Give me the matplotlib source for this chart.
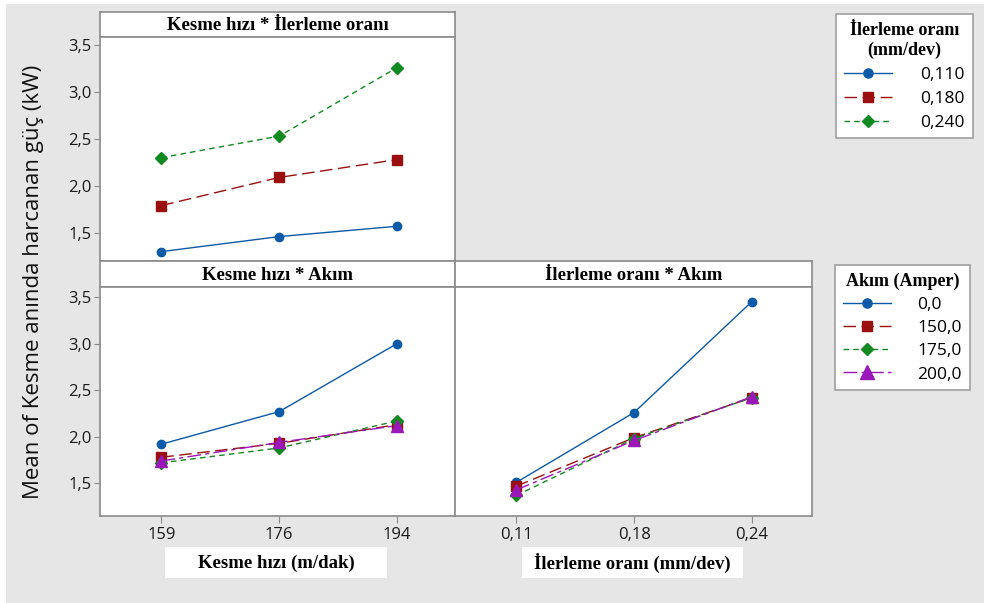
import matplotlib
matplotlib.use("Agg")
import matplotlib.pyplot as plt
from matplotlib.lines import Line2D
from matplotlib.patches import Rectangle

# --- data ---
kesme_hizi = ["159", "176", "194"]
ilerleme = ["0,11", "0,18", "0,24"]

ilerleme_levels = ["0,110", "0,180", "0,240"]
akim_levels = ["0,0", "150,0", "175,0", "200,0"]

# Kesme hızı * İlerleme oranı (rows: feed levels)
hiz_x_ilerleme = [
    [1.30, 1.46, 1.57],
    [1.79, 2.09, 2.28],
    [2.30, 2.53, 3.26],
]

# Kesme hızı * Akım (rows: current levels)
hiz_x_akim = [
    [1.92, 2.27, 3.00],
    [1.78, 1.93, 2.13],
    [1.72, 1.88, 2.17],
    [1.74, 1.94, 2.12],
]

# İlerleme oranı * Akım (rows: current levels)
ilerleme_x_akim = [
    [1.51, 2.26, 3.45],
    [1.47, 1.99, 2.42],
    [1.37, 1.98, 2.42],
    [1.43, 1.96, 2.43],
]

yticks = [1.5, 2.0, 2.5, 3.0, 3.5]
ytick_labels = ["1,5", "2,0", "2,5", "3,0", "3,5"]

# --- styles ---
BLUE, RED, GREEN, PURPLE = "#0b5aa8", "#9a1010", "#108a20", "#9b18b8"
styles = [
    dict(color=BLUE, marker="o", ms=6, ls="-"),
    dict(color=RED, marker="s", ms=7, ls=(0, (9, 4))),
    dict(color=GREEN, marker="D", ms=6, ls=(0, (4, 3))),
    dict(color=PURPLE, marker="^", ms=9, ls=(0, (10, 3, 3, 3))),
]

W, H = 984, 603
BG = "#e6e6e6"
EDGE = "#8a8a8a"
SANS = "Open Sans"
SERIF = "Liberation Serif"

fig = plt.figure(figsize=(W / 100, H / 100), dpi=100, facecolor="white")
fig.patches.append(Rectangle((6 / W, 0), 1, 1 - 4 / H, transform=fig.transFigure,
                             facecolor=BG, edgecolor="none", zorder=-10))


def box(x0, y0, x1, y1):
    return fig.add_axes([x0 / W, 1 - y1 / H, (x1 - x0) / W, (y1 - y0) / H])


def strip(x0, y0, x1, y1, title):
    ax = box(x0, y0, x1, y1)
    ax.set_facecolor("white")
    ax.set_xticks([])
    ax.set_yticks([])
    for s in ax.spines.values():
        s.set_color(EDGE)
        s.set_linewidth(1.2)
    ax.text(0.5, 0.45, title, ha="center", va="center", fontsize=13.5,
            fontweight="bold", family=SERIF, transform=ax.transAxes)
    return ax


def panel(x0, y0, x1, y1, rows, ylim, xlim, show_y, xlabels):
    ax = box(x0, y0, x1, y1)
    ax.set_facecolor("white")
    for vals, st in zip(rows, styles):
        ax.plot(range(len(vals)), vals, color=st["color"], marker=st["marker"],
                markersize=st["ms"], linestyle=st["ls"], linewidth=1.0)
    ax.set_ylim(*ylim)
    ax.set_xlim(*xlim)
    for s in ax.spines.values():
        s.set_color(EDGE)
        s.set_linewidth(1.2)
    ax.set_yticks(yticks)
    if show_y:
        ax.set_yticklabels(ytick_labels, fontsize=12, family=SANS, color="#1a1a1a")
        ax.tick_params(axis="y", length=4, color=EDGE, pad=2)
    else:
        ax.tick_params(axis="y", length=0, labelleft=False)
    ax.set_xticks(range(3))
    if xlabels is not None:
        ax.set_xticklabels(xlabels, fontsize=12, family=SANS, color="#1a1a1a")
        ax.tick_params(axis="x", length=5, color=EDGE, pad=3)
    else:
        ax.tick_params(axis="x", length=0, labelbottom=False)
    return ax


# top-left: Kesme hızı * İlerleme oranı
strip(100, 12, 455, 37, "Kesme hızı * İlerleme oranı")
panel(100, 37, 455, 261, hiz_x_ilerleme, (1.2, 3.585), (-0.52, 2.49), True, None)

# bottom-left: Kesme hızı * Akım
strip(100, 261, 455, 287, "Kesme hızı * Akım")
panel(100, 287, 455, 516, hiz_x_akim, (1.15, 3.606), (-0.52, 2.49), True, kesme_hizi)

# bottom-right: İlerleme oranı * Akım
strip(455, 261, 812, 287, "İlerleme oranı * Akım")
panel(455, 287, 812, 516, ilerleme_x_akim, (1.15, 3.606), (-0.52, 2.51), False, ilerleme)

# y label
fig.text(34 / W, 1 - 282 / H, "Mean of Kesme anında harcanan güç (kW)", rotation=90,
         ha="center", va="center", fontsize=16, family=SANS, color="#111111")

# x labels on white boxes
for (x0, x1), label in [((165, 387), "Kesme hızı (m/dak)"),
                        ((522, 743), "İlerleme oranı (mm/dev)")]:
    fig.patches.append(Rectangle((x0 / W, 1 - 578 / H), (x1 - x0) / W, 31 / H,
                                 transform=fig.transFigure, facecolor="white",
                                 edgecolor="none", zorder=-5))
    fig.text((x0 + x1) / 2 / W, 1 - 563 / H, label, ha="center", va="center",
             fontsize=13.5, fontweight="bold", family=SERIF)


# legends
def make_handles(n):
    return [Line2D([], [], color=st["color"], marker=st["marker"], markersize=st["ms"] * 1.1,
                   linestyle=st["ls"], linewidth=1.0) for st in styles[:n]]


common = dict(loc="upper left", frameon=True, fancybox=False, edgecolor="#a0a0a0",
              framealpha=1, borderaxespad=0, handlelength=2.8, borderpad=0.45,
              prop=dict(family=SANS, size=12.5),
              title_fontproperties=dict(family=SERIF, weight="bold", size=13))
leg1 = fig.legend(make_handles(3), ilerleme_levels, title="İlerleme oranı\n(mm/dev)",
                  bbox_to_anchor=(836 / W, 1 - 14 / H), handletextpad=1.6,
                  labelspacing=0.45, **common)
leg2 = fig.legend(make_handles(4), akim_levels, title="Akım (Amper)",
                  bbox_to_anchor=(835 / W, 1 - 265 / H), handletextpad=1.5,
                  labelspacing=0.4, **common)
for leg in (leg1, leg2):
    leg.get_frame().set_linewidth(1.2)
    leg.get_title().set_multialignment("center")
for t in leg2.get_texts():
    t.set_horizontalalignment("right")

fig.savefig("out.png", dpi=100, facecolor=fig.get_facecolor())
